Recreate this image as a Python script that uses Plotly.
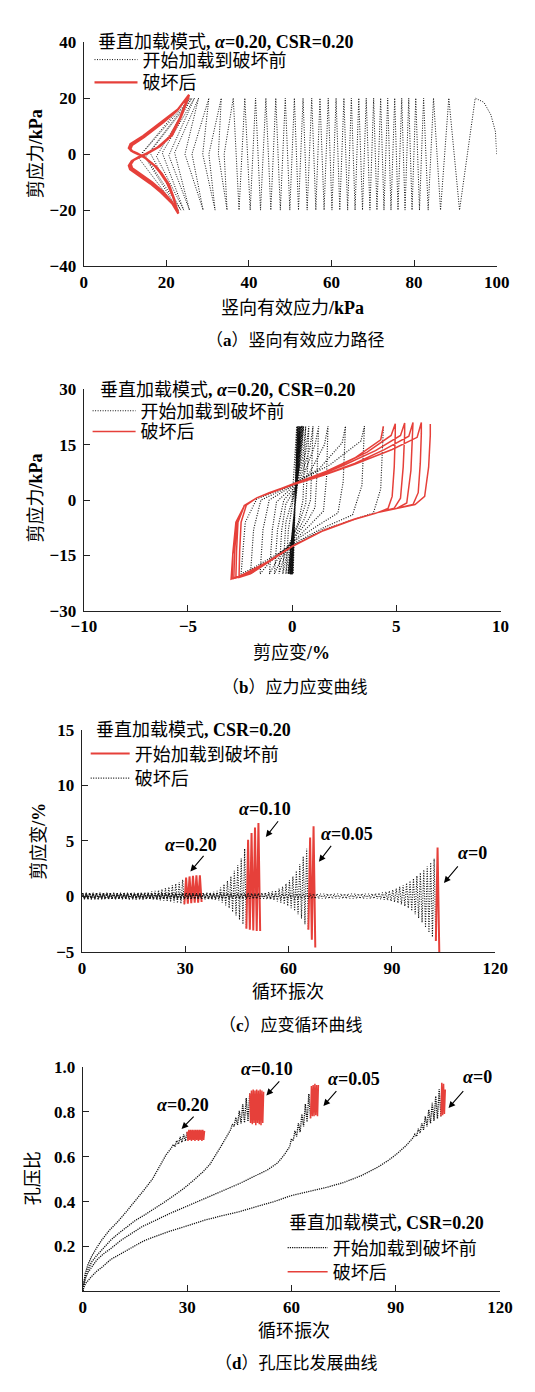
"""Vertical loading mode: stress path, stress-strain loops, strain and pore pressure ratio vs cycles"""

import plotly.graph_objects as go

RED = "#e6403a"
INK = "#111111"
DOT = "1px,1.5px"
DENSE_DOT = "1.2px,1px"
NUM_FONT = "Liberation Serif, Noto Sans CJK SC"
PAGE_W, PAGE_H = 535, 1392

# ---------------- (a) vertical effective stress path ----------------
path_a_sigma = [
    100.0, 99.7, 98.6, 96.9, 94.8,
    91.0, 88.4, 86.4, 84.7, 83.4, 82.3, 81.3, 80.4, 79.5, 78.7,
    77.8, 77.0, 76.1, 75.3, 74.4, 73.6, 72.7, 71.9, 71.0, 70.2,
    69.3, 68.4, 67.5, 66.6, 65.7, 64.8, 63.9, 63.0, 62.0, 61.1,
    60.1, 59.2, 58.2, 57.2, 56.2, 55.2, 54.1, 53.1, 52.0, 51.0,
    49.9, 48.8, 47.6, 46.5, 45.3, 44.1, 42.8, 41.6, 40.3, 39.0,
    37.6, 36.2,
    34.0, 34.7, 32.6, 33.3, 30.3, 31.8, 28.8, 30.3, 26.2, 28.9,
    24.5, 27.8, 22.0, 25.6, 20.6, 26.8, 19.0, 24.2, 17.6, 26.2,
    16.0, 23.5, 15.0, 25.8, 14.2, 23.0, 13.2, 25.4,
]
path_a_tau = [
    0, 8, 14, 18.5, 20,
    -20, 20, -20, 20, -20, 20, -20, 20, -20, 20,
    -20, 20, -20, 20, -20, 20, -20, 20, -20, 20,
    -20, 20, -20, 20, -20, 20, -20, 20, -20, 20,
    -20, 20, -20, 20, -20, 20, -20, 20, -20, 20,
    -20, 20, -20, 20, -20, 20, -20, 20, -20, 20,
    -20, 20,
    0, -20, 0, 20, 0, -20, 0, 20, 0, -20,
    0, 20, 0.5, -20, -0.5, 20, 0.5, -20, -0.8, 20,
    0.6, -20, -1.0, 20, 0.4, -20.3, -1.2, 20.5,
]
fail_a_sigma = [
    25.4,
    23.6, 21.4, 18.4, 15.6, 13.6, 12.1, 11.4, 11.7, 13.6, 16.5, 19.0, 21.3, 22.7,
    21.8, 20.6, 18.9, 17.5, 15.1, 13.3, 11.9, 11.3, 11.7, 14.6, 19.3, 22.6, 25.3,
    23.5, 21.2, 18.2, 15.4, 13.4, 11.9, 11.2, 11.5, 13.4, 16.3, 18.9, 21.3, 22.8,
    21.7, 20.4, 18.7, 17.3, 14.9, 13.1, 11.7, 11.1, 11.5, 14.5, 19.2, 22.7, 25.4,
    23.4, 21.0, 18.0, 15.2, 13.2, 11.7, 11.0, 11.3, 13.2, 16.2, 18.8, 21.4, 22.9,
    21.6, 20.2, 18.5, 17.1, 14.7, 12.9, 11.5, 10.9, 11.3, 14.4, 19.2, 22.8, 25.5,
    23.3, 20.9, 17.9, 15.1, 13.1, 11.6, 10.9, 11.2, 13.1, 16.1, 18.7, 21.4, 22.9,
]
fail_a_tau = [
    20.5,
    13.5, 6.8, 2.8, 0.4, -0.9, -2.1, -3.6, -5.0, -7.0, -10.0, -13.2, -17.0, -20.7,
    -15.6, -10.8, -7.0, -4.5, -1.6, -0.1, 0.8, 1.8, 3.2, 6.1, 11.4, 15.6, 20.8,
    13.4, 6.6, 2.6, 0.3, -1.0, -2.3, -3.9, -5.2, -7.2, -10.2, -13.4, -17.2, -21.0,
    -15.4, -10.6, -6.8, -4.3, -1.4, 0.1, 1.0, 2.0, 3.4, 6.3, 11.6, 15.8, 21.0,
    13.2, 6.4, 2.5, 0.2, -1.1, -2.4, -4.0, -5.3, -7.3, -10.4, -13.6, -17.5, -21.2,
    -15.2, -10.4, -6.6, -4.1, -1.2, 0.3, 1.2, 2.2, 3.6, 6.5, 11.8, 16.0, 21.2,
    13.0, 6.3, 2.4, 0.1, -1.2, -2.5, -4.1, -5.4, -7.4, -10.5, -13.7, -17.6, -21.3,
]

# ---------------- (b) stress-strain loops ----------------
path_b_strain = [
    0.0, 0.22, 0.05, 0.24, 0.03, 0.26, 0.02, 0.28, 0.0, 0.3, -0.02,
    0.31, -0.03, 0.33, -0.05, 0.34, -0.06, 0.36, -0.08, 0.37, -0.09,
    0.39, -0.1, 0.4, -0.12, 0.42, -0.13, 0.43, -0.14, 0.45, -0.15,
    0.46, -0.17, 0.48, -0.18, 0.5, -0.19, 0.52, -0.2, 0.55,
    0.45, 0.1, -0.18, -0.3,
    -0.1, 0.3, 0.52, 0.6, 0.65,
    0.52, 0.15, -0.3, -0.45,
    -0.15, 0.35, 0.65, 0.75, 0.8,
    0.65, 0.25, -0.3, -0.5, -0.63,
    -0.25, 0.1, 0.6, 0.88, 0.95, 1.0,
    0.85, 0.35, -0.4, -0.7, -0.85,
    -0.45, 0.0, 0.7, 1.1, 1.2, 1.27,
    1.1, 0.5, 0.0, -0.75, -0.95, -1.09,
    -0.7, 0.0, 0.9, 1.5, 1.65, 1.72,
    1.55, 0.8, 0.0, -1.1, -1.4, -1.54,
    -1.1, 0.0, 1.2, 2.2, 2.45, 2.56,
    2.4, 1.3, 0.0, -1.5, -1.85, -2.0,
    -1.5, 0.0, 1.5, 2.9, 3.35, 3.47,
    3.3, 1.8, 0.0, -1.7, -2.25, -2.45,
    -1.9, 0.0, 1.5, 3.0, 3.9, 4.25, 4.38,
]
path_b_stress = [
    0, 20, -20, 20, -20, 20, -20, 20, -20, 20, -20,
    20, -20, 20, -20, 20, -20, 20, -20, 20, -20,
    20, -20, 20, -20, 20, -20, 20, -20, 20, -20,
    20, -20, 20, -20, 20, -20, 20, -20, 20,
    12, 2, -8, -20,
    -12, -6, 0, 10, 20,
    12, 3, -6, -20,
    -12, -6, -1, 10, 20,
    13, 4, -1, -8, -20,
    -13, -10, -5, 0, 10, 20,
    14, 5, 0, -8, -20,
    -15, -11, -6, -2, 8, 20,
    15, 6, 3.5, -0.5, -8, -20,
    -16, -11.5, -6.5, -3, 6, 20,
    15, 7, 3.8, 0, -8, -20,
    -17, -11.5, -7, -3.5, 5, 20,
    15.5, 8.5, 4, 0, -8, -20,
    -18, -12, -7.5, -4, 4, 20,
    16, 9.5, 4.2, 0.3, -6, -20,
    -18.5, -12.3, -8, -5.3, -3.5, 3, 20,
]
fail_b_strain = [
    4.38,
    4.25, 3.0, 1.5, 0.0, -1.1, -1.7, -2.2, -2.45, -2.52, -2.55,
    -2.0, -1.1, 0.0, 1.5, 3.0, 4.0, 4.6, 4.8, 4.9, 4.95, 4.95,
    4.75, 3.6, 2.0, 0.0, -1.1, -1.7, -2.3, -2.6, -2.67, -2.7,
    -2.1, -1.1, 0.0, 1.5, 3.0, 4.1, 4.9, 5.2, 5.33, 5.4, 5.4,
    5.2, 4.0, 2.5, 1.0, 0.0, -1.1, -1.7, -2.3, -2.65, -2.76, -2.8,
    -2.2, -1.1, 0.0, 1.5, 3.0, 4.1, 5.0, 5.5, 5.7, 5.8, 5.8,
    5.6, 4.4, 3.0, 1.5, 0.0, -1.1, -1.7, -2.3, -2.7, -2.85, -2.88,
    -2.3, -1.1, 0.0, 1.5, 3.0, 4.1, 5.0, 5.8, 6.05, 6.15, 6.2, 6.2,
    6.0, 4.8, 3.0, 1.5, 0.0, -1.1, -1.7, -2.3, -2.6, -2.85, -2.93,
    -2.3, -1.1, 0.0, 1.5, 3.0, 4.1, 5.0, 5.9, 6.36, 6.55, 6.63, 6.63,
]
fail_b_stress = [
    20,
    16.3, 11.4, 7.4, 4.3, 2.0, 0.6, -1.4, -6, -14, -21.0,
    -20, -16.6, -12.6, -8.3, -5.2, -3.6, -2.3, 1, 9, 18, 20.7,
    17.5, 13.0, 8.6, 4.2, 2.0, 0.6, -1.5, -6, -14, -21.1,
    -20, -16.5, -12.5, -8.2, -5.1, -3.4, -2.2, 0.5, 9, 18, 20.9,
    17.5, 13.4, 9.5, 6.0, 4.1, 1.9, 0.6, -1.6, -6, -14, -21.2,
    -20, -16.5, -12.5, -8.2, -5.1, -3.4, -2.3, -0.8, 8, 18, 21.0,
    17.3, 13.6, 9.9, 6.8, 4.1, 1.9, 0.6, -1.6, -6, -14.5, -21.3,
    -20, -16.5, -12.5, -8.2, -5.1, -3.4, -2.3, -1.2, 2, 10, 18, 21.0,
    17.0, 13.7, 9.7, 6.7, 4.1, 1.9, 0.6, -1.6, -6.0, -14.7, -21.4,
    -20, -16.5, -12.5, -8.2, -5.1, -3.4, -2.3, -1.2, 1.0, 8.9, 17.6, 20.6,
]

# ---------------- (c) shear strain peaks per cycle (max, min) ----------------
strain_hi_020 = [
    0.35, 0.35, 0.35, 0.35, 0.35, 0.35, 0.35, 0.35, 0.35, 0.35,
    0.35, 0.35, 0.35, 0.35, 0.35, 0.35, 0.35, 0.35, 0.35, 0.4,
    0.45, 0.5, 0.55, 0.65, 0.75, 0.85, 1.0, 1.15, 1.3, 1.5,
]
strain_lo_020 = [
    -0.25, -0.25, -0.25, -0.25, -0.25, -0.25, -0.25, -0.25, -0.25, -0.25,
    -0.25, -0.25, -0.25, -0.25, -0.25, -0.25, -0.25, -0.25, -0.25, -0.28,
    -0.3, -0.33, -0.36, -0.4, -0.45, -0.5, -0.55, -0.6, -0.65, -0.7,
]
fail_hi_020 = [1.7, 1.8, 1.85, 1.9, 1.9]
fail_lo_020 = [-0.65, -0.6, -0.55, -0.55, -0.5]

strain_hi_010 = [
    0.3, 0.3, 0.3, 0.3, 0.3, 0.3, 0.3, 0.3, 0.3, 0.3,
    0.3, 0.3, 0.3, 0.3, 0.3, 0.3, 0.3, 0.3, 0.3, 0.3,
    0.3, 0.3, 0.3, 0.3, 0.3, 0.3, 0.3, 0.3, 0.3, 0.3,
    0.3, 0.3, 0.3, 0.3, 0.3, 0.32, 0.34, 0.37, 0.42, 0.5,
    0.8, 1.1, 1.4, 1.8, 2.3, 2.8, 3.4, 4.3,
]
strain_lo_010 = [
    -0.25, -0.25, -0.25, -0.25, -0.25, -0.25, -0.25, -0.25, -0.25, -0.25,
    -0.25, -0.25, -0.25, -0.25, -0.25, -0.25, -0.25, -0.25, -0.25, -0.25,
    -0.25, -0.25, -0.25, -0.25, -0.25, -0.25, -0.25, -0.25, -0.25, -0.25,
    -0.25, -0.25, -0.25, -0.25, -0.25, -0.27, -0.28, -0.3, -0.32, -0.35,
    -0.55, -0.8, -1.05, -1.4, -1.7, -2.1, -2.5, -2.9,
]
fail_hi_010 = [5.1, 5.7, 6.2, 6.6]
fail_lo_010 = [-3.0, -3.05, -3.1, -3.1]

strain_hi_005 = [
    0.3, 0.3, 0.3, 0.3, 0.3, 0.3, 0.3, 0.3, 0.3, 0.3,
    0.3, 0.3, 0.3, 0.3, 0.3, 0.3, 0.3, 0.3, 0.3, 0.3,
    0.3, 0.3, 0.3, 0.3, 0.3, 0.3, 0.3, 0.3, 0.3, 0.3,
    0.3, 0.3, 0.3, 0.3, 0.3, 0.3, 0.3, 0.3, 0.3, 0.3,
    0.3, 0.3, 0.3, 0.3, 0.3, 0.3, 0.3, 0.3, 0.3, 0.3,
    0.3, 0.3, 0.32, 0.35, 0.4, 0.45, 0.55, 0.7, 0.9, 1.15,
    1.45, 1.8, 2.3, 2.9, 3.6, 4.3,
]
strain_lo_005 = [
    -0.2, -0.2, -0.2, -0.2, -0.2, -0.2, -0.2, -0.2, -0.2, -0.2,
    -0.2, -0.2, -0.2, -0.2, -0.2, -0.2, -0.2, -0.2, -0.2, -0.2,
    -0.2, -0.2, -0.2, -0.2, -0.2, -0.2, -0.2, -0.2, -0.2, -0.2,
    -0.2, -0.2, -0.2, -0.2, -0.2, -0.2, -0.2, -0.2, -0.2, -0.2,
    -0.2, -0.2, -0.2, -0.2, -0.2, -0.2, -0.2, -0.2, -0.2, -0.2,
    -0.2, -0.2, -0.22, -0.25, -0.3, -0.35, -0.45, -0.55, -0.7, -0.85,
    -1.05, -1.3, -1.6, -2.0, -2.5, -3.0,
]
fail_hi_005 = [5.3, 6.3]
fail_lo_005 = [-3.9, -4.6]

strain_hi_000 = [
    0.25, 0.25, 0.25, 0.25, 0.25, 0.25, 0.25, 0.25, 0.25, 0.25,
    0.25, 0.25, 0.25, 0.25, 0.25, 0.25, 0.25, 0.25, 0.25, 0.25,
    0.25, 0.25, 0.25, 0.25, 0.25, 0.25, 0.25, 0.25, 0.25, 0.25,
    0.25, 0.25, 0.25, 0.25, 0.25, 0.25, 0.25, 0.25, 0.25, 0.25,
    0.25, 0.25, 0.25, 0.25, 0.25, 0.25, 0.25, 0.25, 0.25, 0.25,
    0.25, 0.25, 0.25, 0.25, 0.25, 0.25, 0.25, 0.25, 0.25, 0.25,
    0.25, 0.25, 0.25, 0.25, 0.25, 0.25, 0.25, 0.25, 0.25, 0.25,
    0.25, 0.25, 0.25, 0.25, 0.25, 0.25, 0.25, 0.25, 0.25, 0.25,
    0.25, 0.25, 0.25, 0.25, 0.25, 0.28, 0.32, 0.36, 0.42, 0.5,
    0.6, 0.72, 0.86, 1.0, 1.2, 1.4, 1.62, 1.86, 2.12, 2.4,
    2.7, 3.05, 3.4,
]
strain_lo_000 = [
    -0.2, -0.2, -0.2, -0.2, -0.2, -0.2, -0.2, -0.2, -0.2, -0.2,
    -0.2, -0.2, -0.2, -0.2, -0.2, -0.2, -0.2, -0.2, -0.2, -0.2,
    -0.2, -0.2, -0.2, -0.2, -0.2, -0.2, -0.2, -0.2, -0.2, -0.2,
    -0.2, -0.2, -0.2, -0.2, -0.2, -0.2, -0.2, -0.2, -0.2, -0.2,
    -0.2, -0.2, -0.2, -0.2, -0.2, -0.2, -0.2, -0.2, -0.2, -0.2,
    -0.2, -0.2, -0.2, -0.2, -0.2, -0.2, -0.2, -0.2, -0.2, -0.2,
    -0.2, -0.2, -0.2, -0.2, -0.2, -0.2, -0.2, -0.2, -0.2, -0.2,
    -0.2, -0.2, -0.2, -0.2, -0.2, -0.2, -0.2, -0.2, -0.2, -0.2,
    -0.2, -0.2, -0.2, -0.2, -0.2, -0.22, -0.25, -0.3, -0.35, -0.42,
    -0.5, -0.6, -0.72, -0.88, -1.05, -1.3, -1.6, -1.95, -2.35, -2.8,
    -3.25, -3.65, -4.0,
]
fail_hi_000 = [4.4]
fail_lo_000 = [-5.0]

# ---------------- (d) pore pressure ratio ----------------
ru_cycle_020 = [0, 0.3, 0.7, 1.5, 2.5, 4, 5.5, 7.5, 10, 12.5, 15, 17.5, 20, 22, 24, 25.5]
ru_020 = [0, 0.04, 0.08, 0.12, 0.155, 0.195, 0.23, 0.27, 0.31, 0.355, 0.4, 0.45, 0.5, 0.555, 0.61, 0.64]
ru_band_020 = [0.655, 0.645, 0.672, 0.656, 0.688, 0.664, 0.70, 0.67, 0.712]
ru_fail_020 = [0.67, 0.72, 0.675, 0.72, 0.67, 0.72, 0.675, 0.72, 0.67, 0.72,
               0.675, 0.72, 0.67, 0.72, 0.675, 0.72, 0.67, 0.72, 0.675, 0.715]

ru_cycle_010 = [0, 0.3, 0.8, 1.5, 2.5, 4, 5.5, 8, 10, 12.5, 15, 17.5, 20, 23, 26, 29, 32,
                34.5, 36.5, 38, 39.5, 41, 42.5]
ru_010 = [0, 0.04, 0.075, 0.1, 0.13, 0.16, 0.185, 0.228, 0.255, 0.287, 0.315, 0.338, 0.362,
          0.393, 0.425, 0.458, 0.497, 0.532, 0.565, 0.6, 0.64, 0.68, 0.72]
ru_band_010 = [0.745, 0.735, 0.775, 0.742, 0.805, 0.748, 0.835, 0.752, 0.862, 0.757, 0.882]
ru_fail_010 = [0.75, 0.895, 0.745, 0.9, 0.75, 0.895, 0.74, 0.9,
               0.75, 0.895, 0.745, 0.9, 0.74, 0.895, 0.75, 0.89]

ru_cycle_005 = [0, 0.3, 0.8, 1.5, 2.5, 4, 6, 8, 11, 14, 17, 20, 25, 30, 35, 40, 45, 50,
                53, 56, 58, 59.5]
ru_005 = [0, 0.03, 0.06, 0.085, 0.109, 0.14, 0.168, 0.19, 0.228, 0.258, 0.288, 0.31,
          0.347, 0.38, 0.414, 0.447, 0.48, 0.518, 0.54, 0.572, 0.61, 0.645]
ru_band_005 = [0.68, 0.67, 0.715, 0.69, 0.75, 0.71, 0.79, 0.735, 0.835, 0.755, 0.88, 0.77]
ru_fail_005 = [0.915, 0.78, 0.92, 0.78, 0.925, 0.785, 0.92, 0.78, 0.92]

ru_cycle_000 = [0, 0.3, 0.8, 1.5, 2.5, 4, 5.5, 8, 10, 12.5, 15, 17.5, 20, 25, 30, 35, 40,
                45, 50, 55, 60, 65, 70, 75, 80, 85, 88, 90.5, 93, 95]
ru_000 = [0, 0.02, 0.035, 0.05, 0.066, 0.09, 0.107, 0.142, 0.16, 0.183, 0.203, 0.225, 0.24,
          0.268, 0.292, 0.317, 0.337, 0.355, 0.378, 0.4, 0.427, 0.445, 0.463, 0.485, 0.515,
          0.555, 0.585, 0.615, 0.65, 0.685]
ru_band_000 = [0.70, 0.69, 0.725, 0.705, 0.75, 0.72, 0.78, 0.735, 0.81, 0.75, 0.84, 0.76,
               0.87, 0.77, 0.9, 0.78]
ru_fail_000 = [0.93, 0.785, 0.925, 0.79, 0.9]

# band start cycle and spacing, failure start cycle and spacing
ru_band_start = {"020": 26.0, "010": 43.0, "005": 60.0, "000": 95.5}
ru_fail_start = {"020": 30.25, "010": 48.25, "005": 65.75, "000": 103.25}
BAND_STEP, FAIL_STEP = 0.5, 0.25

ALPHA_LABELS = ["0.20", "0.10", "0.05", "0"]

PRE_FAIL = "开始加载到破坏前"
POST_FAIL = "破坏后"


def py(px: float) -> float:
    """Converts a pixel row from the top of the page into paper y."""
    return 1 - px / PAGE_H


def px_x(px: float) -> float:
    return px / PAGE_W


def peaks_to_xy(peaks_hi, peaks_lo, first_cycle=0):
    """Turns per-cycle max/min strain into points placed within each cycle."""
    xs, ys = [], []
    for i, (hi, lo) in enumerate(zip(peaks_hi, peaks_lo)):
        xs += [first_cycle + i + 0.25, first_cycle + i + 0.75]
        ys += [hi, lo]
    return xs, ys


def stepped(values, start, step):
    return [start + i * step for i in range(len(values))]


def black_line(x, y, axis_no, legend, show, width=1.0, dash=DOT):
    return go.Scatter(
        x=x, y=y, mode="lines", showlegend=show, legend=legend,
        xaxis=f"x{axis_no}", yaxis=f"y{axis_no}",
        line=dict(color=INK, width=width, dash=dash),
        hoverinfo="skip",
    )


def red_line(x, y, axis_no, legend, show, width):
    return go.Scatter(
        x=x, y=y, mode="lines", showlegend=show, legend=legend,
        xaxis=f"x{axis_no}", yaxis=f"y{axis_no}",
        line=dict(color=RED, width=width),
        hoverinfo="skip",
    )


fig = go.Figure()

# (a)
fig.add_trace(black_line(path_a_sigma, path_a_tau, "", "legend", True).update(name=PRE_FAIL))
fig.add_trace(red_line(fail_a_sigma, fail_a_tau, "", "legend5", True, 2.2).update(name=POST_FAIL))

# (b)
fig.add_trace(black_line(path_b_strain, path_b_stress, "2", "legend2", True, 1.15)
              .update(name=PRE_FAIL))
fig.add_trace(red_line(fail_b_strain, fail_b_stress, "2", "legend6", True, 1.5).update(name=POST_FAIL))

# (c)  (legend labels follow the original figure)
strain_sets = [
    (strain_hi_020, strain_lo_020, fail_hi_020, fail_lo_020),
    (strain_hi_010, strain_lo_010, fail_hi_010, fail_lo_010),
    (strain_hi_005, strain_lo_005, fail_hi_005, fail_lo_005),
    (strain_hi_000, strain_lo_000, fail_hi_000, fail_lo_000),
]
for k, (hi, lo, f_hi, f_lo) in enumerate(strain_sets):
    bx, by = peaks_to_xy(hi, lo)
    bx, by = [0] + bx, [0] + by
    rx, ry = peaks_to_xy(f_hi, f_lo, first_cycle=len(hi))
    fig.add_trace(black_line(bx, by, "3", "legend7", k == 0, 1.1).update(name=POST_FAIL))
    fig.add_trace(red_line([bx[-1]] + rx, [by[-1]] + ry, "3", "legend3", k == 0, 2.0)
                  .update(name=PRE_FAIL))

# (d)
ru_sets = [
    ("020", ru_cycle_020, ru_020, ru_band_020, ru_fail_020),
    ("010", ru_cycle_010, ru_010, ru_band_010, ru_fail_010),
    ("005", ru_cycle_005, ru_005, ru_band_005, ru_fail_005),
    ("000", ru_cycle_000, ru_000, ru_band_000, ru_fail_000),
]
for k, (key, n, ru, band, fail) in enumerate(ru_sets):
    bx = n + stepped(band, ru_band_start[key], BAND_STEP)
    by = ru + band
    rx = stepped(fail, ru_fail_start[key], FAIL_STEP)
    fig.add_trace(black_line(bx, by, "4", "legend4", k == 0, 1.3, DENSE_DOT).update(name=PRE_FAIL))
    fig.add_trace(red_line([bx[-1]] + rx, [by[-1]] + fail, "4", "legend8", k == 0, 1.5)
                  .update(name=POST_FAIL))


def axis_style(domain, rng, tickvals, anchor, ticktext=None, standoff=0):
    return dict(
        domain=domain, range=rng, tickvals=tickvals, ticktext=ticktext, anchor=anchor,
        showline=True, linecolor="#222", linewidth=1.3, mirror=False,
        ticks="inside", ticklen=6, tickwidth=1.3, tickcolor="#222",
        ticklabelstandoff=standoff,
        showgrid=False, zeroline=False,
        tickfont=dict(family=NUM_FONT, size=17, color="black", weight="bold"),
    )


def legend_item(x_px, center_px, item_w):
    """One legend entry per box so that every row can sit where it should."""
    return dict(
        x=px_x(x_px), y=py(center_px), xanchor="left", yanchor="middle",
        bgcolor="rgba(0,0,0,0)", borderwidth=0, itemwidth=item_w, tracegroupgap=0,
        font=dict(family=NUM_FONT, size=18, color="black"),
    )


fig.update_layout(
    width=PAGE_W, height=PAGE_H,
    margin=dict(l=0, r=0, t=0, b=0),
    paper_bgcolor="white", plot_bgcolor="white",
    showlegend=True,
    xaxis=axis_style([px_x(66), px_x(500)], [0, 100], [0, 20, 40, 60, 80, 100], "y"),
    yaxis=axis_style([py(252.5), py(25.5)], [-40, 40], [-40, -20, 0, 20, 40], "x", standoff=3),
    xaxis2=axis_style([px_x(66), px_x(504)], [-10, 10], [-10, -5, 0, 5, 10], "y2"),
    yaxis2=axis_style([py(602), py(377.5)], [-30, 30], [-30, -15, 0, 15, 30], "x2", standoff=3),
    xaxis3=axis_style([px_x(64), px_x(498.5)], [0, 120], [0, 30, 60, 90, 120], "y3"),
    yaxis3=axis_style([py(948), py(722.5)], [-5, 15], [-5, 0, 5, 10, 15], "x3", standoff=3),
    xaxis4=axis_style([px_x(65), px_x(503.5)], [0, 120], [0, 30, 60, 90, 120], "y4"),
    yaxis4=axis_style([py(1292), py(1064.5)], [0, 1.0], [0.2, 0.4, 0.6, 0.8, 1.0], "x4",
                      ticktext=["0.2", "0.4", "0.6", "0.8", "1.0"], standoff=3),
    legend=legend_item(72, 43.5, 43),
    legend5=legend_item(72, 66.5, 43),
    legend2=legend_item(70, 399.5, 43),
    legend6=legend_item(70, 420.5, 43),
    legend3=legend_item(68, 747, 39),
    legend7=legend_item(68, 772, 39),
    legend4=legend_item(275, 1248, 40),
    legend8=legend_item(275, 1272.5, 40),
)

# legend headings, axis titles and captions (text, x px, y px, anchor, angle, size)
title_alpha = "垂直加载模式<b>, <i>α</i>=0.20, CSR=0.20</b>"
title_plain = "垂直加载模式<b>, CSR=0.20</b>"
labels = [
    (title_alpha, 79, 25, "left", 0, 18),
    (title_alpha, 81, 378, "left", 0, 18),
    (title_plain, 77, 723, "left", 0, 18),
    (title_plain, 280, 1223, "left", 0, 18),
    ("竖向有效应力<b>/kPa</b>", 285, 295, "center", 0, 18),
    ("剪应力<b>/kPa</b>", 16, 139, "center", -90, 18),
    ("（<b>a</b>）竖向有效应力路径", 288, 328, "center", 0, 17),
    ("剪应变<b>/%</b>", 284, 645, "center", 0, 18),
    ("剪应力<b>/kPa</b>", 16, 488, "center", -90, 18),
    ("（<b>b</b>）应力应变曲线", 287, 680, "center", 0, 17),
    ("循环振次", 281, 988, "center", 0, 18),
    ("剪应变<b>/%</b>", 18, 836, "center", -90, 18),
    ("（<b>c</b>）应变循环曲线", 284, 1022, "center", 0, 17),
    ("循环振次", 287, 1332, "center", 0, 18),
    ("孔压比", 13, 1177, "center", -90, 18),
    ("（<b>d</b>）孔压比发展曲线", 289, 1365, "center", 0, 17),
]
for text, x_px, y_px, anchor, angle, size in labels:
    fig.add_annotation(
        text=text, x=px_x(x_px), y=py(y_px), xref="paper", yref="paper",
        xanchor=anchor, yanchor="middle", showarrow=False, textangle=angle,
        font=dict(family=NUM_FONT, size=size, color="black"),
    )

# alpha labels with arrows: (label pos, arrow head, arrow tail)
c_marks = [
    ((31.7, 4.6), (31.5, 2.25), (35.7, 3.78)),
    ((53.1, 7.84), (53.4, 5.34), (57.3, 6.9)),
    ((77.1, 5.63), (68.8, 3.13), (72.7, 4.69)),
    ((113.4, 3.87), (105.1, 1.22), (109.5, 2.84)),
]
d_marks = [
    ((28.7, 0.832), (28.4, 0.724), (32.3, 0.785)),
    ((53.0, 0.993), (52.8, 0.873), (56.9, 0.943)),
    ((77.9, 0.946), (69.2, 0.826), (73.3, 0.899)),
    ((113.4, 0.956), (105.2, 0.817), (109.8, 0.899)),
]
for axis_no, marks in (("3", c_marks), ("4", d_marks)):
    for label, (pos, head, tail) in zip(ALPHA_LABELS, marks):
        fig.add_annotation(
            text=f"<b><i>α</i>={label}</b>", x=pos[0], y=pos[1],
            xref=f"x{axis_no}", yref=f"y{axis_no}", showarrow=False,
            font=dict(family=NUM_FONT, size=18, color="black"),
        )
        fig.add_annotation(
            text="", x=head[0], y=head[1], ax=tail[0], ay=tail[1],
            xref=f"x{axis_no}", yref=f"y{axis_no}",
            axref=f"x{axis_no}", ayref=f"y{axis_no}",
            showarrow=True, arrowhead=2, arrowsize=1.2, arrowwidth=1.1,
            arrowcolor="black", standoff=0,
        )

fig.write_html("out.html")
